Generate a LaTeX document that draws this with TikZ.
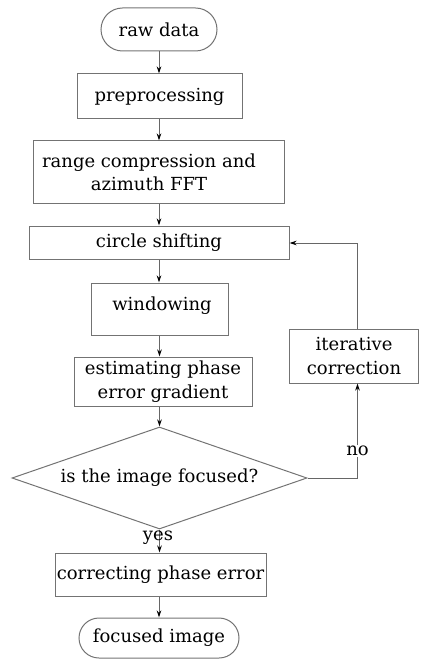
\documentclass[tikz,border=0pt]{standalone}
\usepackage{fontspec}
\setmainfont{DejaVu Serif}
\usetikzlibrary{shapes.geometric,shapes.misc,arrows.meta}
\begin{document}
\begin{tikzpicture}[x=1pt,y=-1pt,
  every node/.style={font=\fontsize{18}{23.5}\selectfont, inner sep=0pt, align=center},
  box/.style={draw=black!55, line width=1pt, rectangle},
  term/.style={draw=black!55, line width=1pt, rounded rectangle},
  dec/.style={draw=black!55, line width=1pt, diamond, aspect=2.9},
  conn/.style={draw=black!60, line width=1pt, -{Stealth[length=7pt,width=4.5pt,color=black]}},
  plain/.style={draw=black!55, line width=1pt}
]
\useasboundingbox (0,0) rectangle (420,660);
\node[term, minimum width=116pt, minimum height=43pt] (raw) at (159,29.5) {raw data};
\node[box, minimum width=165pt, minimum height=45pt] (pre) at (159.5,96.5) {preprocessing};
\node[box, minimum width=251pt, minimum height=63pt] (rc) at (158.5,172.5) {};
\node (rct) at (149,172.5) {range compression and\\azimuth FFT};
\node[box, minimum width=260pt, minimum height=33pt] (cs) at (159,242.5) {circle shifting};
\node[box, minimum width=137pt, minimum height=52pt] (win) at (159.5,309) {};
\node (wint) at (162,306) {windowing};
\node[box, minimum width=178pt, minimum height=49pt] (est) at (163,381.5) {estimating phase\\error gradient};
\node[dec, minimum width=295pt, minimum height=102pt] (dia) at (159.5,478) {is the image focused?};
\node[box, minimum width=211pt, minimum height=43pt] (cor) at (160.5,574.5) {correcting phase error};
\node[term, minimum width=160pt, minimum height=40pt] (foc) at (159,638) {focused image};
\node[box, minimum width=129pt, minimum height=54pt] (it) at (354,356) {iterative\\correction};
\coordinate (turn) at (357.5,478);
\coordinate (up) at (357.5,243);

\draw[conn] (raw.south) -- (raw.south |- pre.north);
\draw[conn] (pre.south -| raw.south) -- (raw.south |- rc.north);
\draw[conn] (rc.south -| raw.south) -- (raw.south |- cs.north);
\draw[conn] (cs.south -| raw.south) -- (raw.south |- win.north);
\draw[conn] (win.south -| dia.north) -- (dia.north |- est.north);
\draw[conn] (est.south -| dia.north) -- (dia.north);
\draw[conn] (dia.south) -- (dia.south |- cor.north);
\draw[conn] (cor.south -| raw.south) -- (raw.south |- foc.north);
\draw[conn] (dia.east) -- (turn) -- (turn |- it.south);
\draw[conn] (turn |- it.north) -- (up) -- (cs.east |- up);
\node[fill=white, inner sep=1pt] (no) at (357.5,451) {no};
\node (yes) at (158,538) {yes};
\end{tikzpicture}
\end{document}
